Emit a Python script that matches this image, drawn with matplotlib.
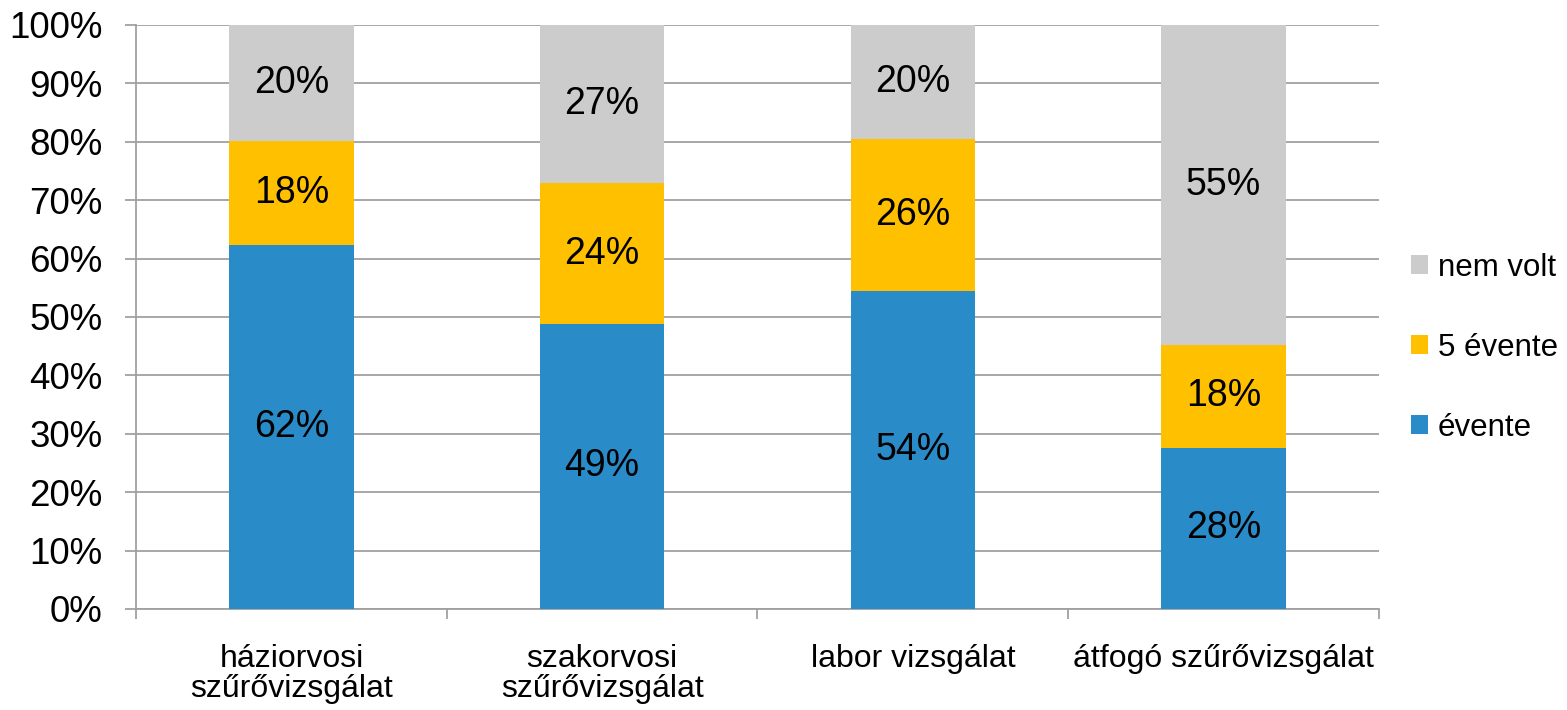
import matplotlib
matplotlib.use("Agg")
import matplotlib.pyplot as plt
import numpy as np

plt.rcParams['font.family'] = ['Liberation Sans', 'DejaVu Sans']

categories = ["háziorvosi\nszűrővizsgálat", "szakorvosi\nszűrővizsgálat",
              "labor vizsgálat", "átfogó szűrővizsgálat"]
evente = [62.4, 48.8, 54.4, 27.6]
ot_evente = [17.7, 24.1, 26.0, 17.6]
nem_volt = [19.9, 27.1, 19.6, 54.8]
series_names = ["évente", "5 évente", "nem volt"]
colors = ["#2A8BC9", "#FFC000", "#CCCCCC"]
yticks = [0, 10, 20, 30, 40, 50, 60, 70, 80, 90, 100]

fig = plt.figure(figsize=(15.67, 7.10), dpi=100)
ax = fig.add_axes([0.0868, 0.1423, 0.7932, 0.8225])

x = np.arange(len(categories))
bottom = np.zeros(len(categories))
bars = []
for vals, name, col in zip([evente, ot_evente, nem_volt], series_names, colors):
    b = ax.bar(x, vals, width=0.4, bottom=bottom, color=col, label=name, zorder=3)
    bars.append(b)
    for xi, v, bt in zip(x, vals, bottom):
        ax.text(xi, bt + v / 2, f"{round(v)}%", ha='center', va='center',
                fontsize=27, color='black', zorder=4)
    bottom = bottom + np.array(vals)

ax.set_xlim(-0.5, len(categories) - 0.5)
ax.set_ylim(0, 100)
ax.set_yticks(yticks)
ax.set_yticklabels([f"{t}%" for t in yticks])
ax.yaxis.grid(True, color='#A0A0A0', linewidth=1.3, zorder=0)
ax.set_axisbelow(True)

for s in ['top', 'right']:
    ax.spines[s].set_visible(False)
for s in ['left', 'bottom']:
    ax.spines[s].set_color('#A0A0A0')
    ax.spines[s].set_linewidth(1.3)

ax.tick_params(axis='y', length=8, width=1.3, color='#A0A0A0', pad=16, labelsize=26.5)
ax.set_xticks(x)
ax.set_xticklabels(categories, fontsize=23, linespacing=1.0)
ax.tick_params(axis='x', which='major', length=0, pad=25)
ax.set_xticks(np.arange(-0.5, len(categories), 1.0), minor=True)
ax.tick_params(axis='x', which='minor', length=7, width=1.3, color='#A0A0A0')

handles = bars[::-1]
labels = series_names[::-1]
leg = fig.legend(handles, labels, loc='center left', bbox_to_anchor=(0.8905, 0.510),
                 frameon=False, fontsize=22.5, handlelength=0.55, handleheight=0.55,
                 handletextpad=0.3, labelspacing=1.6, borderpad=0)

fig.savefig("out.png", dpi=100)
